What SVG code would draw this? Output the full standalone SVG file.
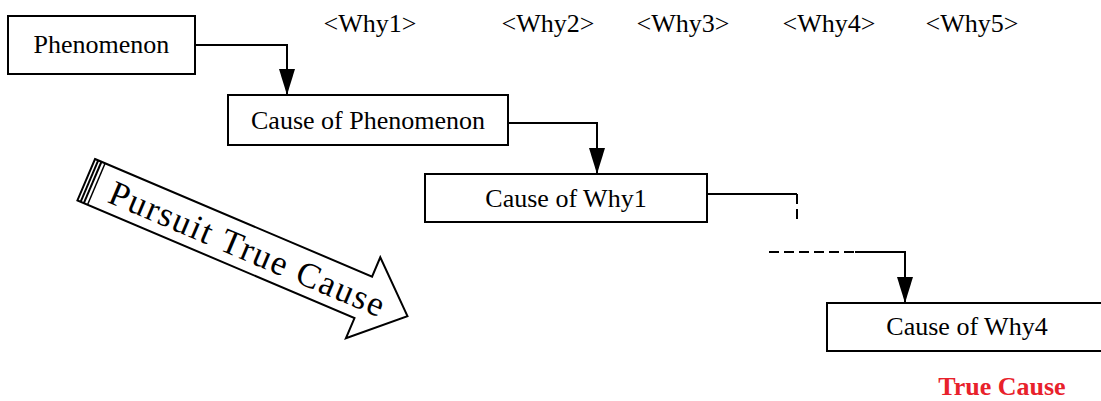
<svg xmlns="http://www.w3.org/2000/svg" width="1101" height="401" viewBox="0 0 1101 401">
<style>
.box{fill:#fff;stroke:#000;stroke-width:2}
.lbl{font-family:"Liberation Serif","Times New Roman",serif;font-size:26px;fill:#000;text-anchor:middle}
.conn{fill:none;stroke:#000;stroke-width:2}
.dash{fill:none;stroke:#000;stroke-width:2;stroke-dasharray:10,5}
.red{font-family:"Liberation Serif","Times New Roman",serif;font-size:26px;font-weight:bold;fill:#e8212b;text-anchor:middle}
</style>
<defs>
<marker id="ah" viewBox="0 0 26 16" refX="26" refY="8" markerWidth="26" markerHeight="16" markerUnits="userSpaceOnUse" orient="auto">
<path d="M0,0 L26,8 L0,16 z" fill="#000"/>
</marker>
</defs>
<rect width="1101" height="401" fill="#fff"/>
<g id="why-labels">
<text class="lbl" x="370" y="32">&lt;Why1&gt;</text>
<text class="lbl" x="548" y="32">&lt;Why2&gt;</text>
<text class="lbl" x="683" y="32">&lt;Why3&gt;</text>
<text class="lbl" x="829" y="32">&lt;Why4&gt;</text>
<text class="lbl" x="972" y="32">&lt;Why5&gt;</text>
</g>
<g id="connectors">
<path class="conn" d="M195,45 H287 V95" marker-end="url(#ah)"/>
<path class="conn" d="M506,123 H597 V174" marker-end="url(#ah)"/>
<path class="conn" d="M707,194 H797"/>
<path class="dash" d="M797,194 V222"/>
<path class="dash" d="M769,252 H855"/>
<path class="conn" d="M855,252 H905 V303" marker-end="url(#ah)"/>
</g>
<g id="phenomenon">
<rect class="box" x="8" y="16" width="187" height="58"/>
<text class="lbl" x="101.5" y="53">Phenomenon</text>
</g>
<g id="cause-phenomenon">
<rect class="box" x="228" y="95" width="280" height="50"/>
<text class="lbl" x="368" y="129">Cause of Phenomenon</text>
</g>
<g id="cause-why1">
<rect class="box" x="425" y="174" width="282" height="48"/>
<text class="lbl" x="566" y="207">Cause of Why1</text>
</g>
<g id="cause-why4">
<rect class="box" x="827" y="303" width="290" height="48"/>
<text class="lbl" x="967" y="335">Cause of Why4</text>
</g>
<g id="true-cause">
<text class="red" x="1002" y="395">True Cause</text>
</g>
<g id="pursuit-arrow" transform="translate(95,159) rotate(23)">
<path d="M0,0 H301 V-21 L349,22.5 L301,67 V45 H0 z" fill="#fff" stroke="#000" stroke-width="2"/>
<line x1="3.5" y1="0" x2="3.5" y2="45" stroke="#000" stroke-width="2"/>
<line x1="7" y1="0" x2="7" y2="45" stroke="#000" stroke-width="2"/>
<line x1="11" y1="0" x2="11" y2="45" stroke="#000" stroke-width="1.5"/>
<text x="27" y="35" font-family="'Liberation Serif','Times New Roman',serif" font-size="35" textLength="296" lengthAdjust="spacing" fill="#000">Pursuit True Cause</text>
</g>
</svg>
